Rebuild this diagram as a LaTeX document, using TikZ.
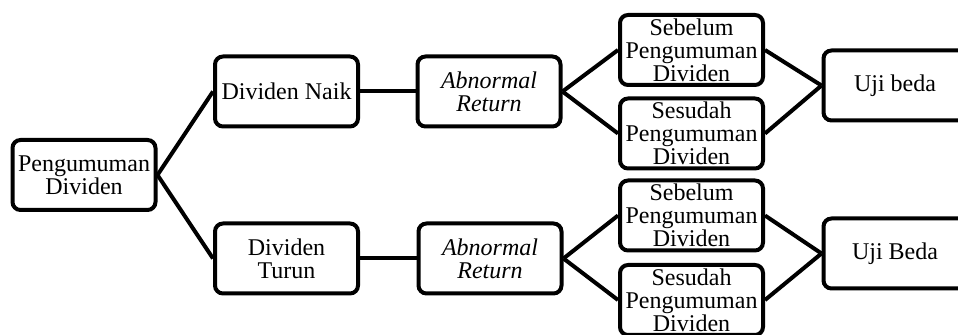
\documentclass[tikz,border=0pt]{standalone}
\usepackage{fontspec}
\setmainfont{Liberation Serif}
\usetikzlibrary{positioning}

\tikzset{
  box/.style={draw=black, line width=2pt, rounded corners=4pt, align=center,
    inner sep=0pt, minimum width=71.5pt, minimum height=35pt,
    font=\fontsize{12}{11.5}\selectfont},
  link/.style={line width=2pt}
}

\begin{document}
\begin{tikzpicture}[x=0.5pt, y=-0.5pt]
  \useasboundingbox (0,0) rectangle (958,335);

  \node[box] (peng) at (84,175) {Pengumuman\\Dividen};

  % upper branch
  \node[box] (naik) at (286.5,91.5) {Dividen Naik};
  \node[box] (ar1) at (489,91.5) {\textit{Abnormal}\\\textit{Return}};
  \node[box] (seb1) at (691.5,50) {Sebelum\\Pengumuman\\Dividen};
  \node[box] (ses1) at (691.5,133.5) {Sesudah\\Pengumuman\\Dividen};
  \node[box] (uji1) at (895,85.5) {Uji beda};

  % lower branch
  \node[box] (turun) at (286.5,258.5) {Dividen\\Turun};
  \node[box] (ar2) at (490,258.5) {\textit{Abnormal}\\\textit{Return}};
  \node[box] (seb2) at (691.5,215.5) {Sebelum\\Pengumuman\\Dividen};
  \node[box] (ses2) at (691.5,300) {Sesudah\\Pengumuman\\Dividen};
  \node[box] (uji2) at (895,253.5) {Uji Beda};

  \draw[link] (peng.east) -- (naik.west);
  \draw[link] (peng.east) -- (turun.west);
  \draw[link] (naik) -- (ar1);
  \draw[link] (turun) -- (ar2);
  \draw[link] (ar1.east) -- (seb1.west);
  \draw[link] (ar1.east) -- (ses1.west);
  \draw[link] (seb1.east) -- (uji1.west);
  \draw[link] (ses1.east) -- (uji1.west);
  \draw[link] (ar2.east) -- (seb2.west);
  \draw[link] (ar2.east) -- (ses2.west);
  \draw[link] (seb2.east) -- (uji2.west);
  \draw[link] (ses2.east) -- (uji2.west);
\end{tikzpicture}
\end{document}
